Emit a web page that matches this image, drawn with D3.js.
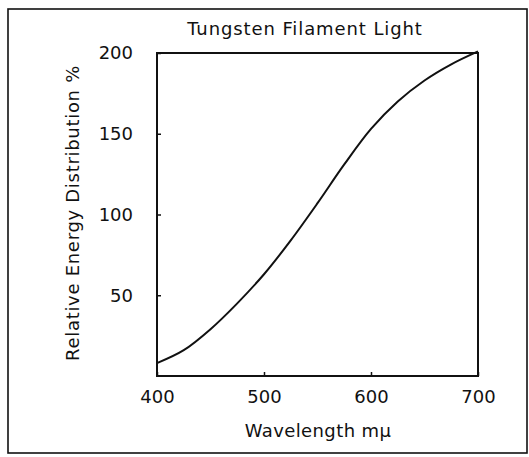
<!DOCTYPE html>
<html><head><meta charset="utf-8">
<script src="https://cdn.jsdelivr.net/npm/d3@7"></script>
<style>
body{margin:0;background:#fff;}
text{font-family:"DejaVu Sans",Arial,Helvetica,sans-serif;fill:#111;}
</style></head>
<body><svg id="c" width="529" height="457"></svg>
<script>
const wavelengths = [400,425,450,475,500,525,550,575,600,625,650,675,700];
const energy      = [8,16,29,45,63,84,107,131,153,170,183,193,201];
const xTicks = [400,500,600,700];
const yTicks = [50,100,150,200];
const title = "Tungsten Filament Light";
const xLabel = "Wavelength m\u03bc";
const yLabel = "Relative Energy Distribution %";

const svg = d3.select("#c");
const x = d3.scaleLinear().domain([400,700]).range([157,478]);
const y = d3.scaleLinear().domain([0,200]).range([376,53]);

// outer frame
svg.append("rect").attr("x",8).attr("y",9).attr("width",519).attr("height",444)
  .attr("fill","none").attr("stroke","#111").attr("stroke-width",1.6);

// plot box
svg.append("rect").attr("x",x(400)).attr("y",y(200)).attr("width",x(700)-x(400)).attr("height",y(0)-y(200))
  .attr("fill","none").attr("stroke","#111").attr("stroke-width",2);

const xAxis = svg.append("g").attr("transform",`translate(0,${y(0)})`)
  .call(d3.axisBottom(x).tickValues(xTicks).tickSize(-4).tickPadding(12).tickFormat(d3.format("d")));
const yAxis = svg.append("g").attr("transform",`translate(${x(400)},0)`)
  .call(d3.axisLeft(y).tickValues(yTicks).tickSize(4).tickPadding(20).tickFormat(d3.format("d")));
[xAxis,yAxis].forEach(g=>{
  g.select(".domain").remove();
  g.selectAll(".tick line").attr("stroke","#111").attr("stroke-width",1.5);
  g.selectAll(".tick text").attr("font-size",18).attr("fill","#111")
    .attr("font-family","'DejaVu Sans',Arial,sans-serif");
});
yAxis.selectAll(".tick line").attr("x2",4);
xAxis.selectAll(".tick text").attr("dy","0.85em");

const pts = wavelengths.map((w,i)=>[w,energy[i]]);
svg.append("path").datum(pts)
  .attr("d", d3.line().x(d=>x(d[0])).y(d=>y(d[1])).curve(d3.curveCatmullRom))
  .attr("fill","none").attr("stroke","#111").attr("stroke-width",2);

svg.append("text").attr("x",305).attr("y",35).attr("text-anchor","middle")
  .attr("font-size",18).attr("letter-spacing",0.9).text(title);
svg.append("text").attr("x",318).attr("y",437).attr("text-anchor","middle")
  .attr("font-size",18).attr("letter-spacing",0.4).text(xLabel);
svg.append("text").attr("transform","translate(79,213) rotate(-90)").attr("text-anchor","middle")
  .attr("font-size",18).attr("letter-spacing",0.7).text(yLabel);
</script></body></html>
